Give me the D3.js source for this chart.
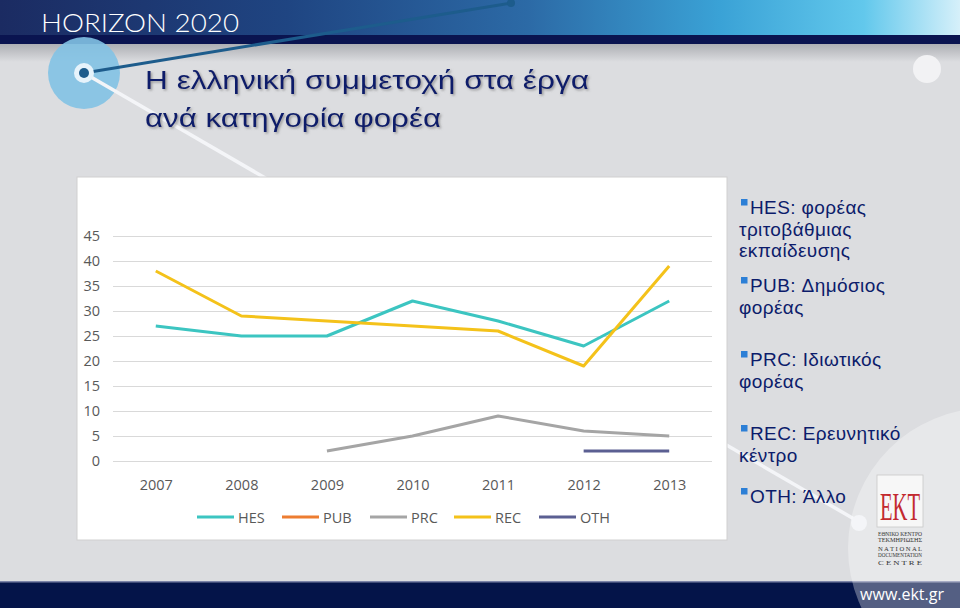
<!DOCTYPE html>
<html><head><meta charset="utf-8">
<script src="https://cdn.jsdelivr.net/npm/d3@7"></script>
<style>html,body{margin:0;padding:0;background:#dcdde0;overflow:hidden}svg{display:block}</style>
</head><body>
<svg id="c" width="960" height="608"></svg>
<script>
// ---- data ----
const years = ["2007","2008","2009","2010","2011","2012","2013"];
const seriesNames = ["HES","PUB","PRC","REC","OTH"];
const HES = [27, 25, 25, 32, 28, 23, 32];
const PUB = [null, null, null, null, null, null, null];
const PRC = [null, null, 2, 5, 9, 6, 5];
const REC = [38, 29, 28, 27, 26, 19, 39];
const OTH = [null, null, null, null, null, 2, 2];
const yTicks = [0, 5, 10, 15, 20, 25, 30, 35, 40, 45];
const seriesColors = ["#3cc5c1", "#ed7d31", "#a5a5a5", "#f4c21a", "#5b5f92"];
const titleLines = ["Η ελληνική συμμετοχή στα έργα", "ανά κατηγορία φορέα"];
const notes = [
  ["HES: φορέας", "τριτοβάθμιας", "εκπαίδευσης"],
  ["PUB: Δημόσιος", "φορέας"],
  ["PRC: Ιδιωτικός", "φορέας"],
  ["REC: Ερευνητικό", "κέντρο"],
  ["OTH: Άλλο"]
];
const seriesValues = [HES, PUB, PRC, REC, OTH];

const svg = d3.select("#c");
const defs = svg.append("defs");

// header gradient
const hg = defs.append("linearGradient").attr("id","hg").attr("x1","0").attr("x2","1").attr("y1","0").attr("y2","0");
[["0","#1b2b62"],["0.3","#1f4582"],["0.55","#2c6aa6"],["0.75","#3aa2d6"],["0.9","#62c8ec"],["1","#d6f0fa"]]
  .forEach(([o,c])=>hg.append("stop").attr("offset",o).attr("stop-color",c));
const sh = defs.append("linearGradient").attr("id","sh").attr("x1","0").attr("x2","0").attr("y1","0").attr("y2","1");
[["0","#adafb4"],["1","#dcdde0"]].forEach(([o,c])=>sh.append("stop").attr("offset",o).attr("stop-color",c));
const tf = defs.append("filter").attr("id","ts").attr("x","-5%").attr("y","-20%").attr("width","110%").attr("height","140%");
tf.append("feDropShadow").attr("dx",1.5).attr("dy",1.5).attr("stdDeviation",0.8).attr("flood-color","#6a6a6a").attr("flood-opacity",0.6);

// background
svg.append("rect").attr("width",960).attr("height",608).attr("fill","#dcdde0");
svg.append("rect").attr("y",44).attr("width",960).attr("height",18).attr("fill","url(#sh)");
svg.append("rect").attr("width",960).attr("height",36).attr("fill","url(#hg)");
svg.append("rect").attr("y",35).attr("width",960).attr("height",9).attr("fill","#0a1450");
svg.append("text").attr("x",41).attr("y",32).attr("fill","#ffffff")
  .attr("font-family","Lato, 'Open Sans', sans-serif").attr("font-weight",300).attr("font-size",26)
  .attr("textLength",198).attr("lengthAdjust","spacingAndGlyphs").text("HORIZON  2020");

// decorative circles & lines
svg.append("ellipse").attr("cx",927).attr("cy",69).attr("rx",14).attr("ry",14).attr("fill","#f2f2f4");
svg.append("circle").attr("cx",84).attr("cy",73).attr("r",36).attr("fill","#82c2e4").attr("opacity",0.9);
svg.append("line").attr("x1",84).attr("y1",73).attr("x2",861).attr("y2",523).attr("stroke","#f4f5f8").attr("stroke-width",3.5);
svg.append("line").attr("x1",84).attr("y1",73).attr("x2",511).attr("y2",3).attr("stroke","#1d5c8c").attr("stroke-width",3);
svg.append("circle").attr("cx",511).attr("cy",3).attr("r",4).attr("fill","#1d5c8c");
svg.append("circle").attr("cx",84).attr("cy",73).attr("r",10).attr("fill","#e6f3fb");
svg.append("circle").attr("cx",84).attr("cy",73).attr("r",5).attr("fill","#1d5c8c");

// title
titleLines.forEach((t,i)=>{
  svg.append("text").attr("x",145).attr("y",[89,127][i]).attr("fill","#0e1f6b")
    .attr("font-family","'Liberation Sans', Arial, sans-serif").attr("font-size",26)
    .attr("textLength",[444,296][i]).attr("lengthAdjust","spacingAndGlyphs")
    .attr("filter","url(#ts)").text(t);
});

// chart box
svg.append("rect").attr("x",77).attr("y",177).attr("width",650).attr("height",363)
  .attr("fill","#ffffff").attr("stroke","#d0d0d0").attr("stroke-width",1);

const x = d3.scalePoint().domain(years).range([113,712]).padding(0.5);
const y = d3.scaleLinear().domain([0,45]).range([461,236]);

const grid = svg.append("g").attr("transform","translate(113,0)")
  .call(d3.axisLeft(y).tickValues(yTicks).tickSize(-599).tickFormat(""));
grid.select(".domain").remove();
grid.selectAll("line").attr("stroke","#d9d9d9").attr("stroke-width",1);

const yAxis = svg.append("g").attr("transform","translate(113,0)")
  .call(d3.axisLeft(y).tickValues(yTicks).tickSize(0).tickPadding(13));
yAxis.select(".domain").remove();
yAxis.selectAll("text").attr("font-family","'Open Sans', sans-serif").attr("font-size",14.5).attr("fill","#595959");

const xAxis = svg.append("g").attr("transform","translate(0,461)")
  .call(d3.axisBottom(x).tickSize(0).tickPadding(19));
xAxis.select(".domain").remove();
xAxis.selectAll("text").attr("font-family","'Open Sans', sans-serif").attr("font-size",14.5).attr("fill","#595959");

const line = d3.line().defined(d=>d!=null).x((d,i)=>x(years[i])).y(d=>y(d));
seriesValues.forEach((vals,k)=>{
  svg.append("path").datum(vals).attr("d",line).attr("fill","none")
    .attr("stroke",seriesColors[k]).attr("stroke-width",3).attr("stroke-linejoin","round");
});

// legend
const legX = [197, 282, 370, 454, 539];
seriesNames.forEach((n,k)=>{
  svg.append("line").attr("x1",legX[k]).attr("x2",legX[k]+37).attr("y1",517).attr("y2",517)
    .attr("stroke",seriesColors[k]).attr("stroke-width",3);
  svg.append("text").attr("x",legX[k]+41).attr("y",522.5).attr("font-family","'Open Sans', sans-serif")
    .attr("font-size",14.5).attr("fill","#595959").text(n);
});

// big light circle at bottom right + footer
svg.append("rect").attr("y",582).attr("width",960).attr("height",26).attr("fill","#041449");
svg.append("rect").attr("y",581).attr("width",960).attr("height",1.5).attr("fill","#7c84a8");
svg.append("circle").attr("cx",988).attr("cy",548).attr("r",140).attr("fill","#ffffff").attr("opacity",0.32);
svg.append("circle").attr("cx",859).attr("cy",523).attr("r",8).attr("fill","#f4f5f8");
svg.append("text").attr("x",944).attr("y",600).attr("text-anchor","end").attr("fill","#ffffff")
  .attr("font-family","'Open Sans', sans-serif").attr("font-size",16).text("www.ekt.gr");

// notes text
const noteY = [214, 292, 366, 440, 503];
notes.forEach((lines,k)=>{
  svg.append("rect").attr("x",741).attr("y",noteY[k]-15).attr("width",6.5).attr("height",6.5).attr("fill","#2c7fd6");
  lines.forEach((t,j)=>{
    svg.append("text").attr("x", j===0 ? 750 : 739).attr("y", noteY[k] + j*21.5)
      .attr("font-family","'Liberation Sans', Arial, sans-serif").attr("font-size",19)
      .attr("letter-spacing",0.4).attr("fill","#0c1c6b").text(t);
  });
});

// EKT logo
const lg = svg.append("g");
lg.append("rect").attr("x",877).attr("y",475).attr("width",46).attr("height",52).attr("fill","#f7f7f7")
  .attr("stroke","#c8c8c8").attr("stroke-width",0.8);
lg.append("text").attr("x",900).attr("y",520).attr("text-anchor","middle").attr("fill","#c32a2f")
  .attr("font-family","'Liberation Serif', 'DejaVu Serif', serif").attr("font-size",40)
  .attr("textLength",40).attr("lengthAdjust","spacingAndGlyphs").text("EKT");
[["ΕΘΝΙΚΟ ΚΕΝΤΡΟ",536],["ΤΕΚΜΗΡΙΩΣΗΣ",542],["N A T I O N A L",551],["DOCUMENTATION",557],["C E N T R E",565]].forEach(([t,yy])=>{
  lg.append("text").attr("x",900).attr("y",yy).attr("text-anchor","middle").attr("fill","#333")
    .attr("font-family","'Liberation Serif', serif").attr("font-size",5.5)
    .attr("textLength",44).attr("lengthAdjust","spacingAndGlyphs").text(t);
});
</script>
</body></html>
